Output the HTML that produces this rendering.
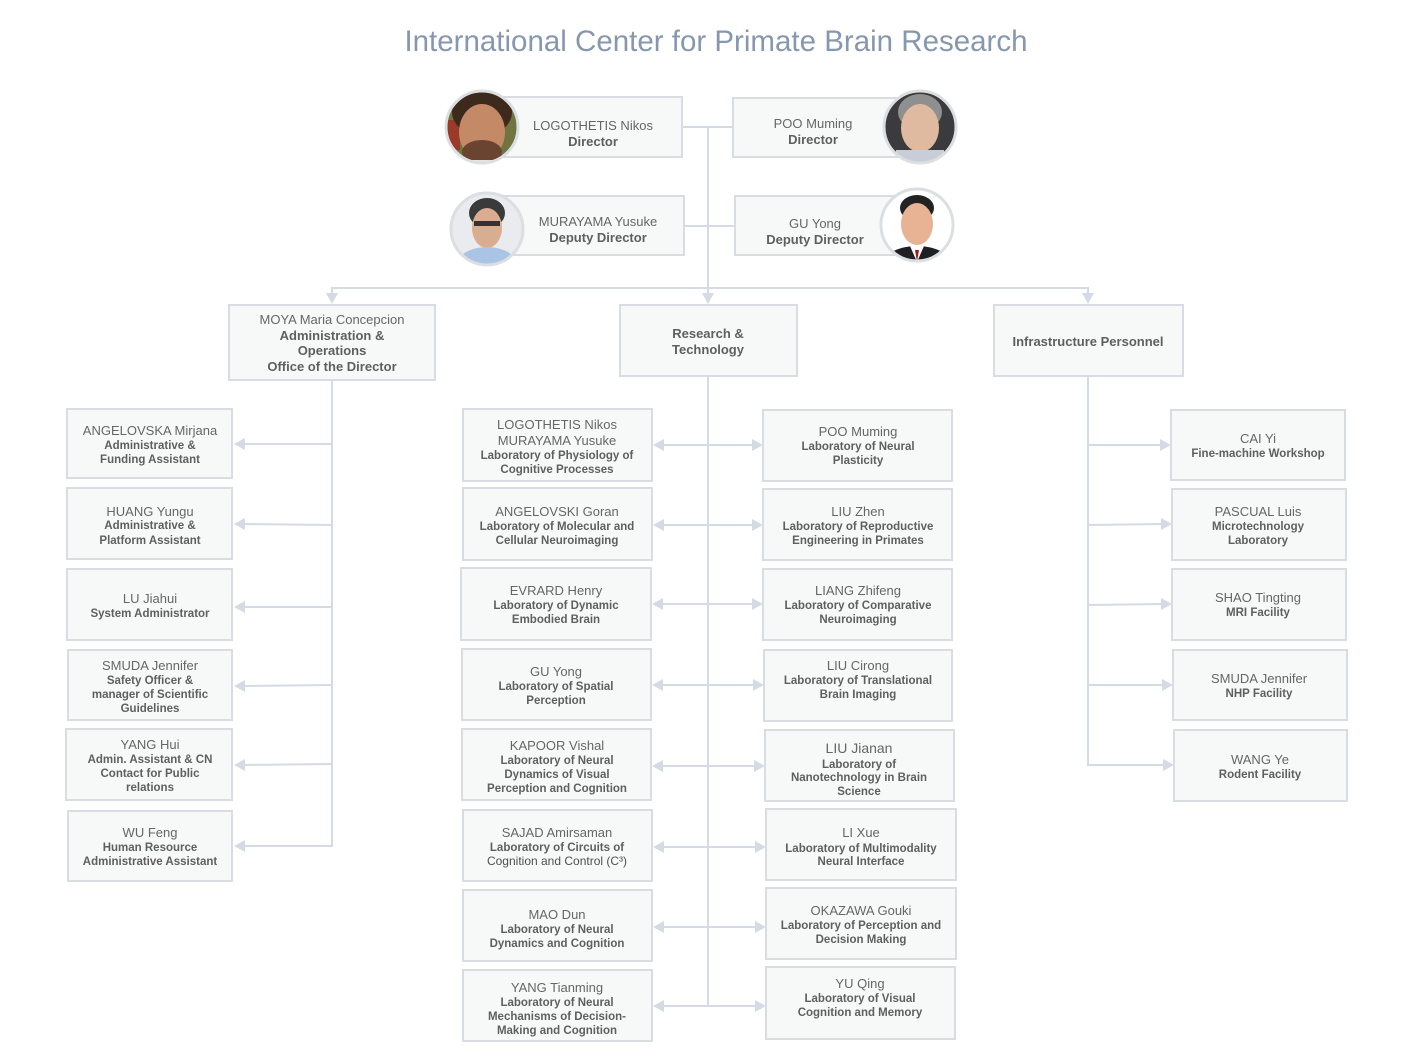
<!DOCTYPE html>
<html><head><meta charset="utf-8">
<style>
html,body{margin:0;padding:0;background:#fff;}
svg{display:block;}
text{font-family:"Liberation Sans",Arial,sans-serif;}
.n{font-size:13px;fill:#666;text-anchor:middle;}
.b{font-size:11.5px;font-weight:bold;fill:#5f5f5f;text-anchor:middle;}
.bb{font-size:13px;font-weight:bold;fill:#5f5f5f;text-anchor:middle;}
.box{fill:#f7f8f8;stroke:#d9dde3;stroke-width:2;}
.ln{stroke:#d5dbe4;stroke-width:2;fill:none;}
.ar{fill:#d5dbe4;}
</style></head>
<body>
<svg width="1407" height="1064" viewBox="0 0 1407 1064" xmlns="http://www.w3.org/2000/svg">
<defs>
<clipPath id="c1"><circle cx="482" cy="127" r="36"/></clipPath>
<clipPath id="c2"><circle cx="920" cy="127" r="36"/></clipPath>
<clipPath id="c3"><circle cx="487" cy="229" r="36"/></clipPath>
<clipPath id="c4"><circle cx="917" cy="225" r="36"/></clipPath>
</defs>

<text x="716" y="51" font-size="29.5" fill="#8797ae" text-anchor="middle">International Center for Primate Brain Research</text>

<!-- connectors top -->
<line class="ln" x1="708" y1="127" x2="708" y2="288"/>
<line class="ln" x1="682" y1="127" x2="733" y2="127"/>
<line class="ln" x1="684" y1="226" x2="735" y2="226"/>
<line class="ln" x1="331" y1="288" x2="1089" y2="288"/>
<line class="ln" x1="332" y1="288" x2="332" y2="294"/>
<line class="ln" x1="708" y1="288" x2="708" y2="294"/>
<line class="ln" x1="1088" y1="288" x2="1088" y2="294"/>
<polygon class="ar" points="326,293 338,293 332,304"/>
<polygon class="ar" points="702,293 714,293 708,304"/>
<polygon class="ar" points="1082,293 1094,293 1088,304"/>

<!-- director boxes -->
<rect class="box" x="497" y="97" width="185" height="60"/>
<text class="n" x="593" y="130">LOGOTHETIS Nikos</text>
<text class="bb" x="593" y="146">Director</text>

<rect class="box" x="733" y="98" width="190" height="59"/>
<text class="n" x="813" y="128">POO Muming</text>
<text class="bb" x="813" y="144">Director</text>

<rect class="box" x="500" y="196" width="184" height="59"/>
<text class="n" x="598" y="226">MURAYAMA Yusuke</text>
<text class="bb" x="598" y="242">Deputy Director</text>

<rect class="box" x="735" y="196" width="190" height="59"/>
<text class="n" x="815" y="228">GU Yong</text>
<text class="bb" x="815" y="244">Deputy Director</text>

<!-- photos -->
<g clip-path="url(#c1)">
<rect x="440" y="85" width="90" height="90" fill="#6f7440"/>
<rect x="440" y="120" width="20" height="30" fill="#9a3b2a"/>
<ellipse cx="482" cy="112" rx="30" ry="24" fill="#3e2a1d"/>
<ellipse cx="482" cy="132" rx="23" ry="28" fill="#c48a68"/>
<ellipse cx="482" cy="152" rx="20" ry="12" fill="#6a4430"/>
<rect x="462" y="160" width="40" height="20" fill="#e8e2dc"/>
</g>
<circle cx="482" cy="127" r="36" fill="none" stroke="#dcdfe2" stroke-width="3"/>

<g clip-path="url(#c2)">
<rect x="880" y="85" width="90" height="90" fill="#3b3b3d"/>
<ellipse cx="920" cy="112" rx="22" ry="18" fill="#8f8f8f"/>
<ellipse cx="920" cy="128" rx="19" ry="24" fill="#e0b9a1"/>
<rect x="896" y="150" width="48" height="20" fill="#c9cdd8"/>
</g>
<circle cx="920" cy="127" r="36" fill="none" stroke="#dcdfe2" stroke-width="3"/>

<g clip-path="url(#c3)">
<rect x="445" y="190" width="90" height="90" fill="#e9ebee"/>
<ellipse cx="487" cy="213" rx="18" ry="15" fill="#3a3a3a"/>
<ellipse cx="487" cy="228" rx="15" ry="20" fill="#d8ad90"/>
<rect x="474" y="221" width="26" height="5" fill="#333"/>
<ellipse cx="487" cy="265" rx="30" ry="18" fill="#a9c4e4"/>
</g>
<circle cx="487" cy="229" r="36" fill="none" stroke="#dcdfe2" stroke-width="3"/>

<g clip-path="url(#c4)">
<rect x="875" y="185" width="90" height="90" fill="#ffffff"/>
<ellipse cx="917" cy="208" rx="17" ry="13" fill="#222"/>
<ellipse cx="917" cy="224" rx="16" ry="21" fill="#e7b394"/>
<ellipse cx="917" cy="262" rx="32" ry="16" fill="#1f1f24"/>
<polygon points="910,246 924,246 917,262" fill="#fff"/>
<polygon points="915,250 919,250 917,262" fill="#9a1c1c"/>
</g>
<circle cx="917" cy="225" r="36" fill="none" stroke="#dcdfe2" stroke-width="3"/>

<!-- second level -->
<rect class="box" x="229" y="305" width="206" height="75"/>
<text class="n" x="332" y="324">MOYA Maria Concepcion</text>
<text class="bb" x="332" y="340">Administration &amp;</text>
<text class="bb" x="332" y="355">Operations</text>
<text class="bb" x="332" y="371">Office of the Director</text>

<rect class="box" x="620" y="305" width="177" height="71"/>
<text class="bb" x="708" y="338">Research &amp;</text>
<text class="bb" x="708" y="354">Technology</text>

<rect class="box" x="994" y="305" width="189" height="71"/>
<text class="bb" x="1088" y="346">Infrastructure Personnel</text>

<!-- left column connectors -->
<line class="ln" x1="332" y1="380" x2="332" y2="847"/>
<g>
<line class="ln" x1="332" y1="444" x2="245" y2="444"/><polygon class="ar" points="234,444 245,438 245,450"/>
<line class="ln" x1="332" y1="525" x2="245" y2="524"/><polygon class="ar" points="234,524 245,518 245,530"/>
<line class="ln" x1="332" y1="607" x2="245" y2="607"/><polygon class="ar" points="234,607 245,601 245,613"/>
<line class="ln" x1="332" y1="685" x2="245" y2="686"/><polygon class="ar" points="234,686 245,680 245,692"/>
<line class="ln" x1="332" y1="764" x2="245" y2="765"/><polygon class="ar" points="234,765 245,759 245,771"/>
<line class="ln" x1="332" y1="846" x2="245" y2="846"/><polygon class="ar" points="234,846 245,840 245,852"/>
</g>

<!-- left column boxes -->
<rect class="box" x="67" y="409" width="165" height="69"/>
<text class="n" x="150" y="435">ANGELOVSKA Mirjana</text>
<text class="b" x="150" y="449">Administrative &amp;</text>
<text class="b" x="150" y="463">Funding Assistant</text>

<rect class="box" x="67" y="488" width="165" height="71"/>
<text class="n" x="150" y="516">HUANG Yungu</text>
<text class="b" x="150" y="529">Administrative &amp;</text>
<text class="b" x="150" y="544">Platform Assistant</text>

<rect class="box" x="67" y="569" width="165" height="71"/>
<text class="n" x="150" y="603">LU Jiahui</text>
<text class="b" x="150" y="617">System Administrator</text>

<rect class="box" x="68" y="650" width="164" height="70"/>
<text class="n" x="150" y="670">SMUDA Jennifer</text>
<text class="b" x="150" y="684">Safety Officer &amp;</text>
<text class="b" x="150" y="698">manager of Scientific</text>
<text class="b" x="150" y="712">Guidelines</text>

<rect class="box" x="66" y="729" width="166" height="71"/>
<text class="n" x="150" y="749">YANG Hui</text>
<text class="b" x="150" y="763">Admin. Assistant &amp; CN</text>
<text class="b" x="150" y="777">Contact for Public</text>
<text class="b" x="150" y="791">relations</text>

<rect class="box" x="68" y="811" width="164" height="70"/>
<text class="n" x="150" y="837">WU Feng</text>
<text class="b" x="150" y="851">Human Resource</text>
<text class="b" x="150" y="865">Administrative Assistant</text>

<!-- middle connectors -->
<line class="ln" x1="708" y1="376" x2="708" y2="1007"/>
<g>
<line class="ln" x1="664" y1="445" x2="752" y2="445"/><polygon class="ar" points="653,445 664,439 664,451"/><polygon class="ar" points="763,445 752,439 752,451"/>
<line class="ln" x1="664" y1="525" x2="752" y2="525"/><polygon class="ar" points="653,525 664,519 664,531"/><polygon class="ar" points="763,525 752,519 752,531"/>
<line class="ln" x1="663" y1="604" x2="752" y2="604"/><polygon class="ar" points="652,604 663,598 663,610"/><polygon class="ar" points="763,604 752,598 752,610"/>
<line class="ln" x1="663" y1="685" x2="753" y2="685"/><polygon class="ar" points="652,685 663,679 663,691"/><polygon class="ar" points="764,685 753,679 753,691"/>
<line class="ln" x1="663" y1="766" x2="754" y2="766"/><polygon class="ar" points="652,766 663,760 663,772"/><polygon class="ar" points="765,766 754,760 754,772"/>
<line class="ln" x1="664" y1="847" x2="755" y2="847"/><polygon class="ar" points="653,847 664,841 664,853"/><polygon class="ar" points="766,847 755,841 755,853"/>
<line class="ln" x1="664" y1="927" x2="755" y2="927"/><polygon class="ar" points="653,927 664,921 664,933"/><polygon class="ar" points="766,927 755,921 755,933"/>
<line class="ln" x1="664" y1="1006" x2="755" y2="1006"/><polygon class="ar" points="653,1006 664,1000 664,1012"/><polygon class="ar" points="766,1006 755,1000 755,1012"/>
</g>

<!-- middle left boxes -->
<rect class="box" x="463" y="409" width="189" height="72"/>
<text class="n" x="557" y="429">LOGOTHETIS Nikos</text>
<text class="n" x="557" y="445">MURAYAMA Yusuke</text>
<text class="b" x="557" y="459">Laboratory of Physiology of</text>
<text class="b" x="557" y="473">Cognitive Processes</text>

<rect class="box" x="463" y="488" width="189" height="72"/>
<text class="n" x="557" y="516">ANGELOVSKI Goran</text>
<text class="b" x="557" y="530">Laboratory of Molecular and</text>
<text class="b" x="557" y="544">Cellular Neuroimaging</text>

<rect class="box" x="461" y="568" width="190" height="72"/>
<text class="n" x="556" y="595">EVRARD Henry</text>
<text class="b" x="556" y="609">Laboratory of Dynamic</text>
<text class="b" x="556" y="623">Embodied Brain</text>

<rect class="box" x="462" y="649" width="189" height="71"/>
<text class="n" x="556" y="676">GU Yong</text>
<text class="b" x="556" y="690">Laboratory of Spatial</text>
<text class="b" x="556" y="704">Perception</text>

<rect class="box" x="462" y="729" width="189" height="71"/>
<text class="n" x="557" y="750">KAPOOR Vishal</text>
<text class="b" x="557" y="764">Laboratory of Neural</text>
<text class="b" x="557" y="778">Dynamics of Visual</text>
<text class="b" x="557" y="792">Perception and Cognition</text>

<rect class="box" x="463" y="810" width="189" height="71"/>
<text class="n" x="557" y="837">SAJAD Amirsaman</text>
<text class="b" x="557" y="851">Laboratory of Circuits of</text>
<text x="557" y="865" text-anchor="middle" style="font-size:12px;fill:#4f4f4f">Cognition and Control (C³)</text>

<rect class="box" x="463" y="890" width="189" height="71"/>
<text class="n" x="557" y="919">MAO Dun</text>
<text class="b" x="557" y="933">Laboratory of Neural</text>
<text class="b" x="557" y="947">Dynamics and Cognition</text>

<rect class="box" x="463" y="970" width="189" height="71"/>
<text class="n" x="557" y="992">YANG Tianming</text>
<text class="b" x="557" y="1006">Laboratory of Neural</text>
<text class="b" x="557" y="1020">Mechanisms of Decision-</text>
<text class="b" x="557" y="1034">Making and Cognition</text>

<!-- middle right boxes -->
<rect class="box" x="763" y="410" width="189" height="71"/>
<text class="n" x="858" y="436">POO Muming</text>
<text class="b" x="858" y="450">Laboratory of Neural</text>
<text class="b" x="858" y="464">Plasticity</text>

<rect class="box" x="763" y="489" width="189" height="71"/>
<text class="n" x="858" y="516">LIU Zhen</text>
<text class="b" x="858" y="530">Laboratory of Reproductive</text>
<text class="b" x="858" y="544">Engineering in Primates</text>

<rect class="box" x="763" y="569" width="189" height="71"/>
<text class="n" x="858" y="595">LIANG Zhifeng</text>
<text class="b" x="858" y="609">Laboratory of Comparative</text>
<text class="b" x="858" y="623">Neuroimaging</text>

<rect class="box" x="764" y="650" width="188" height="71"/>
<text class="n" x="858" y="670">LIU Cirong</text>
<text class="b" x="858" y="684">Laboratory of Translational</text>
<text class="b" x="858" y="698">Brain Imaging</text>

<rect class="box" x="765" y="730" width="189" height="71"/>
<text class="n" x="859" y="753" style="font-size:14px">LIU Jianan</text>
<text class="b" x="859" y="768">Laboratory of</text>
<text class="b" x="859" y="781">Nanotechnology in Brain</text>
<text class="b" x="859" y="795">Science</text>

<rect class="box" x="766" y="809" width="190" height="71"/>
<text class="n" x="861" y="837">LI Xue</text>
<text class="b" x="861" y="852">Laboratory of Multimodality</text>
<text class="b" x="861" y="865">Neural Interface</text>

<rect class="box" x="766" y="888" width="190" height="71"/>
<text class="n" x="861" y="915">OKAZAWA Gouki</text>
<text class="b" x="861" y="929">Laboratory of Perception and</text>
<text class="b" x="861" y="943">Decision Making</text>

<rect class="box" x="766" y="967" width="189" height="72"/>
<text class="n" x="860" y="988">YU Qing</text>
<text class="b" x="860" y="1002">Laboratory of Visual</text>
<text class="b" x="860" y="1016">Cognition and Memory</text>

<!-- right column connectors -->
<line class="ln" x1="1088" y1="376" x2="1088" y2="766"/>
<g>
<line class="ln" x1="1088" y1="445" x2="1160" y2="445"/><polygon class="ar" points="1171,445 1160,439 1160,451"/>
<line class="ln" x1="1088" y1="525" x2="1161" y2="524"/><polygon class="ar" points="1172,524 1161,518 1161,530"/>
<line class="ln" x1="1088" y1="605" x2="1161" y2="604"/><polygon class="ar" points="1172,604 1161,598 1161,610"/>
<line class="ln" x1="1088" y1="685" x2="1162" y2="685"/><polygon class="ar" points="1173,685 1162,679 1162,691"/>
<line class="ln" x1="1088" y1="765" x2="1163" y2="765"/><polygon class="ar" points="1174,765 1163,759 1163,771"/>
</g>

<!-- right column boxes -->
<rect class="box" x="1171" y="410" width="174" height="70"/>
<text class="n" x="1258" y="443">CAI Yi</text>
<text class="b" x="1258" y="457">Fine-machine Workshop</text>

<rect class="box" x="1172" y="489" width="174" height="71"/>
<text class="n" x="1258" y="516">PASCUAL Luis</text>
<text class="b" x="1258" y="530">Microtechnology</text>
<text class="b" x="1258" y="544">Laboratory</text>

<rect class="box" x="1172" y="569" width="174" height="71"/>
<text class="n" x="1258" y="602">SHAO Tingting</text>
<text class="b" x="1258" y="616">MRI Facility</text>

<rect class="box" x="1173" y="650" width="174" height="70"/>
<text class="n" x="1259" y="683">SMUDA Jennifer</text>
<text class="b" x="1259" y="697">NHP Facility</text>

<rect class="box" x="1174" y="730" width="173" height="71"/>
<text class="n" x="1260" y="764">WANG Ye</text>
<text class="b" x="1260" y="778">Rodent Facility</text>

</svg>
</body></html>
